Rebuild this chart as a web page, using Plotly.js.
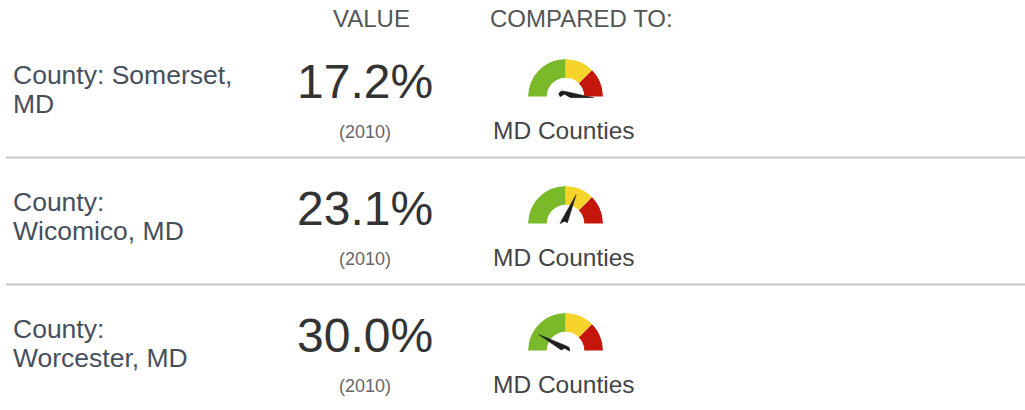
<!DOCTYPE html>
<html>
<head>
<meta charset="utf-8">
<script src="https://cdn.plot.ly/plotly-3.0.1.min.js"></script>
<style>html,body{margin:0;padding:0;background:#fff;}#chart{width:1025px;height:410px;}</style>
</head>
<body>
<div id="chart"></div>
<script>
// ---- data ----
const headers = ['VALUE', 'COMPARED TO:'];
const counties = ['County: Somerset,<br>MD', 'County:<br>Wicomico, MD', 'County:<br>Worcester, MD'];
const values = [17.2, 23.1, 30.0];
const valueLabels = ['17.2%', '23.1%', '30.0%'];
const years = ['(2010)', '(2010)', '(2010)'];
const comparedTo = ['MD Counties', 'MD Counties', 'MD Counties'];
const gaugeMin = 17.7;
const gaugeMax = 32.3;
const bandEdges = [17.7, 21.35, 25.0, 32.3];
const bandColors = ['#c4160b', '#f6d42a', '#7aba2a'];

// ---- layout helpers ----
const W = 1025, H = 410;
const px = x => x / W;
const py = y => 1 - y / H;
const ROW = 127;
const ang = v => 180 * (v - gaugeMin) / (gaugeMax - gaugeMin);

const FONT = "'Liberation Sans', Arial, sans-serif";
const annotations = [];
const shapes = [];
const traces = [];
const layout = {
  width: W, height: H,
  margin: {l: 0, r: 0, t: 0, b: 0},
  paper_bgcolor: '#fff',
  plot_bgcolor: '#fff',
  showlegend: false,
  xaxis: {visible: false}, yaxis: {visible: false},
  annotations, shapes
};

const txt = (text, x, y, size, color, xanchor) => annotations.push({
  text, x: px(x), y: py(y), xref: 'paper', yref: 'paper',
  xanchor: xanchor || 'center', yanchor: 'middle', showarrow: false,
  font: {family: FONT, size, color}
});

txt(headers[0], 371, 18, 24, '#555');
txt(headers[1], 581, 18, 24, '#555');

const polarCfg = (cx, cy, R) => ({
  domain: {x: [px(cx - R), px(cx + R)], y: [py(cy + R / 2), py(cy - R)]},
  sector: [-30, 210],
  bgcolor: 'rgba(0,0,0,0)',
  bargap: 0,
  radialaxis: {visible: false, range: [0, 1], showgrid: false},
  angularaxis: {visible: false, rotation: 0, direction: 'counterclockwise', showgrid: false}
});

counties.forEach((c, i) => {
  const off = i * ROW;
  c.split('<br>').forEach((line, j) => txt(line, 11, 75 + off + j * 28.5, 26.5, '#46505c', 'left'));
  txt(valueLabels[i], 365, 81.5 + off, 48, '#333');
  txt(years[i], 365, 131.5 + off, 18, '#666');
  txt(comparedTo[i], 563.5, 130 + off, 24.5, '#444');
  if (i < counties.length - 1) {
    shapes.push({type: 'line', xref: 'paper', yref: 'paper',
      x0: px(6), x1: px(1025), y0: py(157.5 + off), y1: py(157.5 + off),
      line: {color: '#c6c6c6', width: 2}});
  }

  // gauge bands
  const key = 'polar' + (i === 0 ? '' : (i + 1));
  const nkey = 'polar' + (i + 4);
  const cx = 565.5, cy = 96.5 + off, R = 37.5;
  layout[key] = polarCfg(cx, cy, R);
  layout[nkey] = polarCfg(cx - 1, cy - 2, R);
  const thetas = [], widths = [];
  for (let k = 0; k < bandColors.length; k++) {
    const a0 = ang(bandEdges[k]), a1 = ang(bandEdges[k + 1]);
    thetas.push((a0 + a1) / 2);
    widths.push(a1 - a0);
  }
  traces.push({
    type: 'barpolar', subplot: key,
    r: bandColors.map(() => 0.5), base: 0.5,
    theta: thetas, width: widths,
    marker: {color: bandColors, line: {width: 0}},
    hoverinfo: 'skip'
  });
  // needle
  const a = ang(values[i]);
  traces.push({
    type: 'scatterpolar', subplot: nkey, mode: 'lines', fill: 'toself',
    r: [0.085, 0.13, 0.16, 0.13, 0.085, 0.78, 0.085],
    theta: [a + 90, a + 140, a + 180, a + 220, a + 270, a, a + 90],
    fillcolor: '#1e1e1e', line: {color: '#1e1e1e', width: 0.5},
    cliponaxis: false, hoverinfo: 'skip'
  });
});

Plotly.newPlot('chart', traces, layout, {displayModeBar: false, staticPlot: true});
</script>
</body>
</html>
